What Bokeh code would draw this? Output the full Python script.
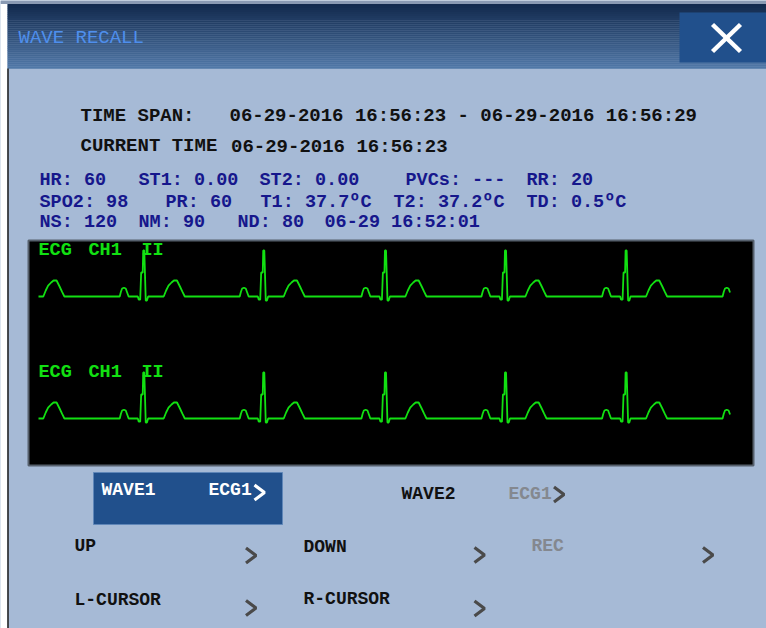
import numpy as np
from bokeh.plotting import figure
from bokeh.models import Range1d
from bokeh.embed import file_html
from bokeh.resources import INLINE
from bokeh.core.properties import value

# ---------------- data ----------------
title_text = "WAVE RECALL"
time_span_label = "TIME SPAN:"
time_span_start = "06-29-2016 16:56:23"
time_span_end = "06-29-2016 16:56:29"
current_label = "CURRENT TIME"
current_time = "06-29-2016 16:56:23"

HR = 60
ST1 = 0.00
ST2 = 0.00
PVCS = "---"
RR = 20
SPO2 = 98
PR = 60
T1 = 37.7
T2 = 37.2
TD = 0.5
NS = 120
NM = 90
ND = 80
NIBP_TIME = "06-29 16:52:01"

ecg_labels = ["ECG", "CH1", "II"]

# one heart beat, relative to the R peak (ms, mV)
beat_ms = [-200, -190, -180, -165, -150, -138, -126,
           -50, -42, -30, -22, -9, -5, 4, 16, 26, 36,
           165, 185, 205, 230, 250, 275, 300, 320, 340]
beat_mv = [0.0, 0.12, 0.20, 0.22, 0.20, 0.10, 0.0,
           0.0, -0.08, -0.08, 0.60, 0.60, 1.15, 1.15, -0.10, -0.10, 0.0,
           0.0, 0.15, 0.27, 0.35, 0.40, 0.40, 0.25, 0.12, 0.0]
r_peaks_s = [-0.125, 0.874, 1.870, 2.880, 3.876, 4.877, 5.877]
trace_len_s = 5.745

menu_wave1 = ["WAVE1", "ECG1"]
menu_wave2 = ["WAVE2", "ECG1"]
menu_row1 = ["UP", "DOWN", "REC"]
menu_row2 = ["L-CURSOR", "R-CURSOR"]

# ---------------- colours / fonts ----------------
BG = "#a6bad6"
NAVY_TXT = "#16178c"
GREEN = "#12e012"
BTN = "#21508c"
GRAY_TXT = "#84888f"
CHEV = "#4a4a4a"
MONO = value("Liberation Mono")
DY = -6  # baseline correction

W, H = 766, 628

p = figure(width=W, height=H, output_backend="svg", toolbar_location=None,
           x_range=Range1d(0, W), y_range=Range1d(H, 0),
           min_border=0, x_axis_location=None, y_axis_location=None,
           background_fill_color=BG, border_fill_color=BG)
p.grid.visible = False
p.outline_line_color = None

# outer frame pieces
p.quad(left=[0], right=[7], top=[3], bottom=[H], fill_color="white", line_color=None)
p.quad(left=[0], right=[W], top=[0], bottom=[3.5], fill_color="#8a9ab3", line_color=None)

# ---- title bar (vertical gradient) ----
n_band = 32
tb_top, tb_bot = 3.5, 68
edges = np.linspace(tb_top, tb_bot, n_band + 1)
c_top = np.array([0x13, 0x2a, 0x4e])
c_bot = np.array([0x50, 0x78, 0xa7])
cols = []
for i in range(n_band):
    f = i / (n_band - 1)
    c = (c_top * (1 - f) + c_bot * f).astype(int)
    cols.append("#%02x%02x%02x" % tuple(c))
p.quad(left=[7] * n_band, right=[W] * n_band, top=list(edges[:-1]),
       bottom=list(edges[1:] + 0.3), fill_color=cols, line_color=None)
p.text(x=[18], y=[43 + DY], text=[title_text], text_font=MONO, text_font_size="19px",
       text_color="#4f8fec", text_baseline="alphabetic")

# close button
p.quad(left=[679], right=[W], top=[12], bottom=[62], fill_color=BTN, line_color=None)
p.multi_line(xs=[[712, 740], [740, 712]], ys=[[24, 51], [24, 51]],
             line_color="white", line_width=4.5)

# left frame line
p.segment(x0=[7.5], y0=[68], x1=[7.5], y1=[H], line_color="#1b1b1b", line_width=1.5)

# ---- header texts ----
hdr = dict(text_font=MONO, text_font_style="bold", text_font_size="19px",
           text_color="#111111", text_baseline="alphabetic")
p.text(x=[80, 229], y=[121.5 + DY, 121.5 + DY],
       text=[time_span_label, f"{time_span_start} - {time_span_end}"], **hdr)
p.text(x=[80, 230.5], y=[151 + DY, 152 + DY],
       text=[current_label, current_time], **hdr)

row1 = [f"HR: {HR}", f"ST1: {ST1:.2f}", f"ST2: {ST2:.2f}", f"PVCs: {PVCS}", f"RR: {RR}"]
row1_x = [39, 138, 259, 405, 526]
row2 = [f"SPO2: {SPO2}", f"PR: {PR}", f"T1: {T1:.1f}ºC", f"T2: {T2:.1f}ºC", f"TD:  {TD:.1f}ºC"]
row2_x = [39, 165, 260, 393, 526]
row3 = [f"NS: {NS}", f"NM: {NM}", f"ND: {ND}", NIBP_TIME]
row3_x = [39, 138, 237, 324]
vit = dict(text_font=MONO, text_font_style="bold", text_font_size="18.5px",
           text_color=NAVY_TXT, text_baseline="alphabetic")
p.text(x=row1_x, y=[185.7 + DY] * len(row1), text=row1, **vit)
p.text(x=row2_x, y=[208.3 + DY] * len(row2), text=row2, **vit)
p.text(x=row3_x, y=[228.3 + DY] * len(row3), text=row3, **vit)

# ---- ECG panel ----
p.quad(left=[28], right=[753], top=[240], bottom=[465], fill_color="black",
       line_color="#56606d", line_width=2)

px_per_s = 120.5
t0_px = 38
gain = 40.0
baselines = {"ch1": 296.0, "ch2": 418.0}
p.extra_x_ranges = {"ecg_t": Range1d((0 - t0_px) / px_per_s, (W - t0_px) / px_per_s)}
p.extra_y_ranges = {k: Range1d((b - H) / gain, (b - 0) / gain) for k, b in baselines.items()}

ecg_t = [0.0]
ecg_v = [0.0]
for r in r_peaks_s:
    for ms, mv in zip(beat_ms, beat_mv):
        t = r + ms / 1000.0
        if 0.0 < t <= trace_len_s:
            ecg_t.append(t)
            ecg_v.append(mv)

lbl = dict(text_font=MONO, text_font_style="bold", text_font_size="18.5px",
           text_color=GREEN, text_baseline="alphabetic")
for ch, lab_y in (("ch1", 255.7 + DY), ("ch2", 377.7 + DY)):
    p.line(ecg_t, ecg_v, x_range_name="ecg_t", y_range_name=ch,
           line_color=GREEN, line_width=1.8)
    p.text(x=[38, 88, 141], y=[lab_y] * 3, text=ecg_labels, **lbl)

# ---- menu ----
p.quad(left=[93], right=[282], top=[472], bottom=[524], fill_color=BTN,
       line_color="#5f86b8", line_width=1)
mf = dict(text_font=MONO, text_font_style="bold", text_font_size="18px",
          text_baseline="alphabetic")
p.text(x=[101, 208], y=[495.7 + DY] * 2, text=menu_wave1, text_color="white", **mf)
p.text(x=[401], y=[499 + DY], text=[menu_wave2[0]], text_color="#111111", **mf)
p.text(x=[508], y=[499 + DY], text=[menu_wave2[1]], text_color=GRAY_TXT, **mf)
p.text(x=[74, 303], y=[551.7 + DY, 552.3 + DY], text=menu_row1[:2], text_color="#111111", **mf)
p.text(x=[531], y=[551 + DY], text=[menu_row1[2]], text_color=GRAY_TXT, **mf)
p.text(x=[74, 303], y=[605 + DY, 604.5 + DY], text=menu_row2, text_color="#111111", **mf)


def chevron(x0, yc, w=10.0, h=15.0):
    return [x0, x0 + w, x0], [yc - h / 2, yc, yc + h / 2]


chev_white = [chevron(254, 492)]
chev_gray = [chevron(553.5, 494), chevron(245.5, 555), chevron(474, 554.5),
             chevron(702.5, 554.5), chevron(245.5, 607.5), chevron(474, 608)]
p.multi_line(xs=[c[0] for c in chev_white], ys=[c[1] for c in chev_white],
             line_color="white", line_width=3.2)
p.multi_line(xs=[c[0] for c in chev_gray], ys=[c[1] for c in chev_gray],
             line_color=CHEV, line_width=3.2)

open("out.html", "w").write(file_html(p, INLINE))
